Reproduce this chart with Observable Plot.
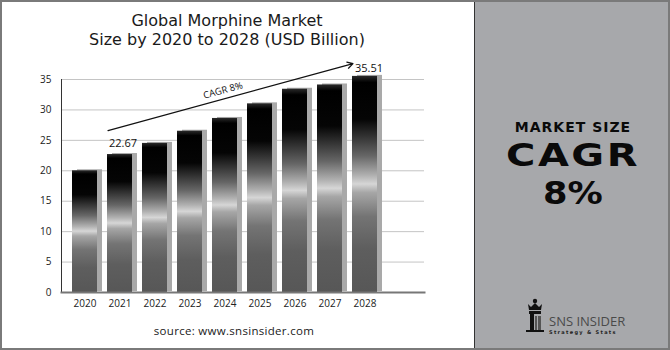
<!DOCTYPE html>
<html>
<head>
<meta charset="utf-8">
<script src="https://cdn.jsdelivr.net/npm/d3@7"></script>
<script src="https://cdn.jsdelivr.net/npm/@observablehq/plot@0.6"></script>
<style>
  html, body { margin: 0; padding: 0; background: #fff; }
  #wrap { position: relative; width: 670px; height: 350px; overflow: hidden; font-family: "Open Sans", sans-serif; }
  #frame { position: absolute; left: 0; top: 0; width: 666px; height: 346px; border: 2px solid #7a7a7a; pointer-events: none; z-index: 5; }
  #chart { position: absolute; left: 0; top: 0; }
  #title { position: absolute; left: 0; top: 11px; width: 454px; text-align: center; font-family: "DejaVu Sans", sans-serif; font-size: 16px; color: #1a1a1a; line-height: 19px; }
  #source { position: absolute; left: 0; width: 468px; top: 323px; text-align: center; font-size: 11.5px; letter-spacing: 0.3px; color: #1a1a1a; }
  #panel { position: absolute; left: 474px; top: 0; width: 196px; height: 350px; background: #a7a8ab; border-left: 1.5px solid #333; box-sizing: border-box; }
  .big { position: absolute; left: 0; width: 196px; text-align: center; font-family: "DejaVu Sans", sans-serif; font-weight: bold; color: #0a0a0a; }
  #logo { position: absolute; left: 49px; top: 298px; }
</style>
</head>
<body>
<div id="wrap">
  <div id="chart"></div>
  <div id="title">Global Morphine Market<br>Size by 2020 to 2028 (USD Billion)</div>
  <div id="source">source: www.snsinsider.com</div>
  <div id="panel">
    <div class="big" style="top:119px;height:16px;font-size:14px;line-height:16px;letter-spacing:1px">MARKET SIZE</div>
    <div class="big" style="top:137px;height:37px;font-size:32px;line-height:37px;letter-spacing:2px;transform:scaleX(1.25)">CAGR</div>
    <div class="big" style="top:174.5px;height:37px;font-size:32px;line-height:37px;transform:scaleX(1.1)">8%</div>
    <div id="logo">
      <svg width="110" height="40" viewBox="0 0 110 40">
        <circle cx="11" cy="3" r="2.2" fill="#111"/>
        <path d="M4 6 L7 9 L11 5 L15 9 L18 6 L17 12 L5 12 Z" fill="#111"/>
        <rect x="5" y="13" width="12" height="3" fill="#111"/>
        <rect x="6" y="16" width="4" height="17" fill="#111"/>
        <rect x="11" y="18" width="2" height="15" fill="#555"/>
        <rect x="14" y="18" width="3" height="15" fill="#555"/>
        <rect x="2" y="32" width="18" height="2" fill="#111"/>
        <text x="25" y="28" font-family="Open Sans, sans-serif" font-size="13" fill="#4a4a4a">SNS INSIDER</text>
        <text x="25" y="36" font-family="DejaVu Sans, sans-serif" font-size="5" font-weight="bold" letter-spacing="1.3" fill="#222">Strategy &amp; Stats</text>
      </svg>
    </div>
  </div>
  <div id="frame"></div>
</div>
<script>
const years = ["2020","2021","2022","2023","2024","2025","2026","2027","2028"];
const values = [20.0, 22.67, 24.5, 26.5, 28.6, 31.0, 33.4, 34.1, 35.51];
const yTicks = [0, 5, 10, 15, 20, 25, 30, 35];
const labelYears = ["2021", "2028"];
const labelTexts = ["22.67", "35.51"];
const arrowStart = ["2021", 26.6];
const arrowEnd = ["2028", 37.6];
const cagrLabel = "CAGR 8%";
const cagrPos = ["2024", 33.2];

const data = years.map((y, i) => ({year: y, value: values[i]}));
const labels = labelYears.map((y, i) => ({year: y, value: values[years.indexOf(y)], text: labelTexts[i]}));

const chart = Plot.plot({
  width: 474,
  height: 350,
  marginLeft: 61,
  marginRight: 50,
  marginTop: 79,
  marginBottom: 58,
  style: {background: "transparent", fontFamily: "Open Sans, sans-serif", fontSize: "10px", color: "#222"},
  x: {domain: years, range: [70, 378], paddingInner: 0.29, paddingOuter: 0, label: null, tickSize: 0, tickPadding: 7},
  y: {domain: [0, 35], ticks: yTicks, label: null, tickSize: 0, tickPadding: 10},
  marks: [
    Plot.ruleY(yTicks.filter(d => d > 0), {stroke: "#c4c4c4", strokeWidth: 1}),
    Plot.barY(data, {x: "year", y: "value", fill: "#a9a9a9", dx: 5, dy: -1}),
    Plot.barY(data, {x: "year", y: "value", fill: "url(#metal)"}),
    Plot.frame({anchor: "left", stroke: "#333", strokeWidth: 1}),
    Plot.frame({anchor: "bottom", stroke: "#777", strokeWidth: 2}),
    Plot.text(labels.slice(0, 1), {x: "year", y: "value", text: "text", dy: -11, dx: 3, fontSize: 11, fill: "#111"}),
    Plot.text(labels.slice(1), {x: "year", y: "value", text: "text", dy: -8, dx: 4, fontSize: 11, fill: "#111"}),
    Plot.arrow([{x1: arrowStart[0], y1: arrowStart[1], x2: arrowEnd[0], y2: arrowEnd[1]}],
      {x1: "x1", y1: "y1", x2: "x2", y2: "y2", dx: -12, stroke: "#111", strokeWidth: 1.2, headLength: 8, bend: 0}),
    Plot.text([{x: cagrPos[0], y: cagrPos[1], t: cagrLabel}], {x: "x", y: "y", text: "t", rotate: -15, fontSize: 9.5, fill: "#111", dx: -2})
  ]
});

const defs = d3.select(chart).insert("defs", ":first-child");
const g = defs.append("linearGradient").attr("id", "metal").attr("x1", 0).attr("y1", 0).attr("x2", 0).attr("y2", 1);
[[0, "#2a2a2a"], [0.03, "#000"], [0.2, "#050505"], [0.37, "#666"], [0.46, "#b0b0b0"], [0.5, "#d6d6d6"], [0.54, "#a6a6a6"], [0.65, "#747474"], [0.8, "#5e5e5e"], [1, "#575757"]]
  .forEach(([o, c]) => g.append("stop").attr("offset", o).attr("stop-color", c));

document.getElementById("chart").appendChild(chart);
</script>
</body>
</html>
